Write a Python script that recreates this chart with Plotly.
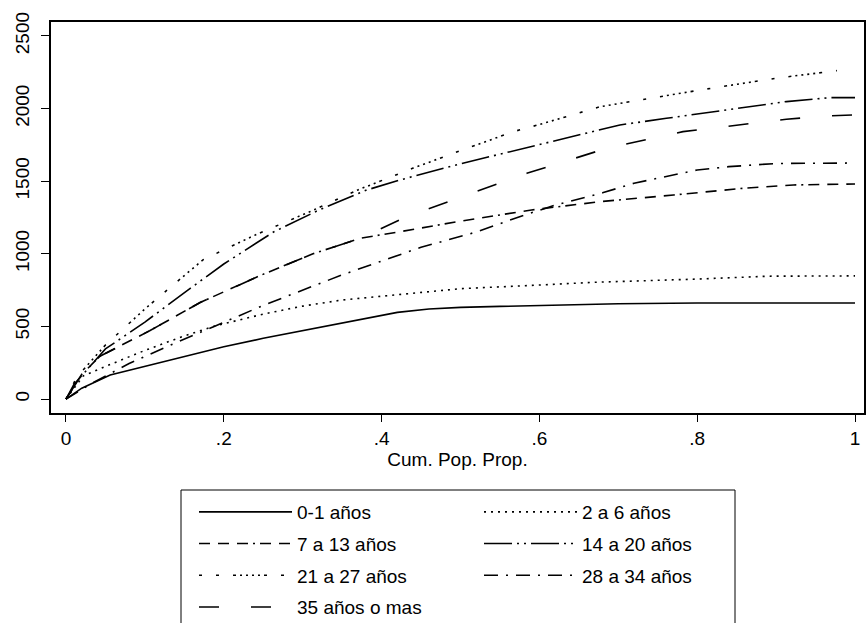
import plotly.graph_objects as go

# ---- data ----
x_01 = [0, .02, .056, .1, .15, .2, .25, .3, .35, .42, .46, .5, .55, .6, .7, .8, .9, 1.0]
y_01 = [0, 75, 165, 225, 292, 360, 418, 472, 524, 597, 620, 631, 638, 645, 656, 661, 661, 661]

x_26 = [0, .022, .05, .1, .15, .19, .25, .3, .35, .43, .5, .6, .67, .8, .89, 1.0]
y_26 = [0, 160, 225, 335, 435, 505, 585, 640, 682, 725, 760, 785, 804, 826, 846, 848]

x_713 = [0, .02, .043, .106, .17, .21, .246, .313, .373, .423, .5, .59, .677, .77, .858, .922, 1.0]
y_713 = [0, 170, 295, 470, 665, 765, 850, 1000, 1107, 1152, 1225, 1302, 1359, 1405, 1451, 1474, 1481]

x_1420 = [0, .01, .05, .1, .157, .2, .263, .32, .381, .423, .5, .6, .702, .761, .846, .913, .968, 1.0]
y_1420 = [0, 100, 345, 530, 760, 930, 1150, 1300, 1439, 1508, 1620, 1750, 1887, 1933, 1995, 2048, 2075, 2075]

x_2127 = [0, .0135, .05, .1, .128, .174, .24, .309, .37, .44, .5, .567, .6, .677, .804, .9, .977]
y_2127 = [0, 150, 372, 620, 750, 960, 1130, 1290, 1440, 1590, 1710, 1841, 1890, 2013, 2128, 2209, 2261]

x_2834 = [0, .03, .08, .14, .19, .25, .35, .45, .52, .58, .62, .68, .72, .8, .84, .9, 1.0]
y_2834 = [0, 100, 245, 390, 505, 645, 855, 1045, 1150, 1265, 1335, 1420, 1486, 1577, 1600, 1622, 1625]

x_35 = [0, .02, .043, .106, .17, .21, .246, .313, .373, .432, .508, .584, .685, .782, .871, .913, .964, 1.0]
y_35 = [0, 170, 295, 470, 665, 765, 850, 1000, 1107, 1256, 1405, 1554, 1726, 1841, 1899, 1926, 1949, 1956]

x_ticks = [0, .2, .4, .6, .8, 1]
x_ticktext = ["0", ".2", ".4", ".6", ".8", "1"]
y_ticks = [0, 500, 1000, 1500, 2000, 2500]

series = [
    ("0-1 años", x_01, y_01, "solid", "legend"),
    ("2 a 6 años", x_26, y_26, "2px,5px", "legend2"),
    ("7 a 13 años", x_713, y_713, "11px,8px,11px,8px,11px,5px,2px,5px", "legend"),
    ("14 a 20 años", x_1420, y_1420, "28px,5px,2px,5px,2px,5px", "legend2"),
    ("21 a 27 años", x_2127, y_2127,
     "3px,14px,3px,14px,3px,4px,2px,4px,2px,4px,2px,4px,2px,4px", "legend"),
    ("28 a 34 años", x_2834, y_2834, "14px,8px,2px,8px", "legend2"),
    ("35 años o mas", x_35, y_35, "20px,32px", "legend"),
]

W, H = 866, 623
ML, MT, MR, MB = 51, 22, 2, 210

fig = go.Figure()
for i, (name, xs, ys, dash, lg) in enumerate(series):
    fig.add_trace(go.Scatter(
        x=xs, y=ys, mode="lines", name=name,
        line=dict(color="black", width=1.6, dash=dash),
        legend=lg, legendgroup=name,
    ))

font = dict(family="Liberation Sans Narrow, Arial Narrow, sans-serif", size=19, color="black")

pw = W - ML - MR
ph = H - MT - MB

def px_to_paper_x(px):
    return (px - ML) / pw

def py_to_paper_y(py):
    return (H - MB - py) / ph

fig.update_layout(
    width=W, height=H,
    margin=dict(l=ML, r=MR, t=MT, b=MB, pad=0, autoexpand=False),
    paper_bgcolor="white", plot_bgcolor="white",
    font=font,
    showlegend=True,
    xaxis=dict(
        range=[-0.019, 1.0114], tickvals=x_ticks, ticktext=x_ticktext,
        showgrid=False, zeroline=False, showline=True, linecolor="black",
        linewidth=2, mirror=True, ticks="outside", ticklen=7, tickwidth=1,
        tickcolor="black", tickfont=font, automargin=False,
        title=dict(text="Cum. Pop. Prop.", font=font, standoff=0),
    ),
    yaxis=dict(
        range=[-96, 2596], tickvals=y_ticks, tickangle=-90,
        showgrid=False, zeroline=False, showline=True, linecolor="black",
        linewidth=2, mirror=True, ticks="outside", ticklen=8, tickwidth=1,
        tickcolor="black", tickfont=font, automargin=False,
        ticklabelstandoff=4,
    ),
    legend=dict(
        xref="container", yref="container",
        x=194 / W, y=1 - 493 / H, xanchor="left", yanchor="top",
        orientation="v", traceorder="grouped", tracegroupgap=4,
        itemwidth=93, font=font, bgcolor="rgba(0,0,0,0)", borderwidth=0,
    ),
    legend2=dict(
        xref="container", yref="container",
        x=479 / W, y=1 - 493 / H, xanchor="left", yanchor="top",
        orientation="v", traceorder="grouped", tracegroupgap=4,
        itemwidth=93, font=font, bgcolor="rgba(0,0,0,0)", borderwidth=0,
    ),
    shapes=[dict(
        type="rect", xref="paper", yref="paper",
        x0=px_to_paper_x(181), x1=px_to_paper_x(735),
        y0=py_to_paper_y(490), y1=py_to_paper_y(640),
        line=dict(color="black", width=1), fillcolor="rgba(0,0,0,0)",
        layer="above",
    )],
)

fig.write_html("out.html")
